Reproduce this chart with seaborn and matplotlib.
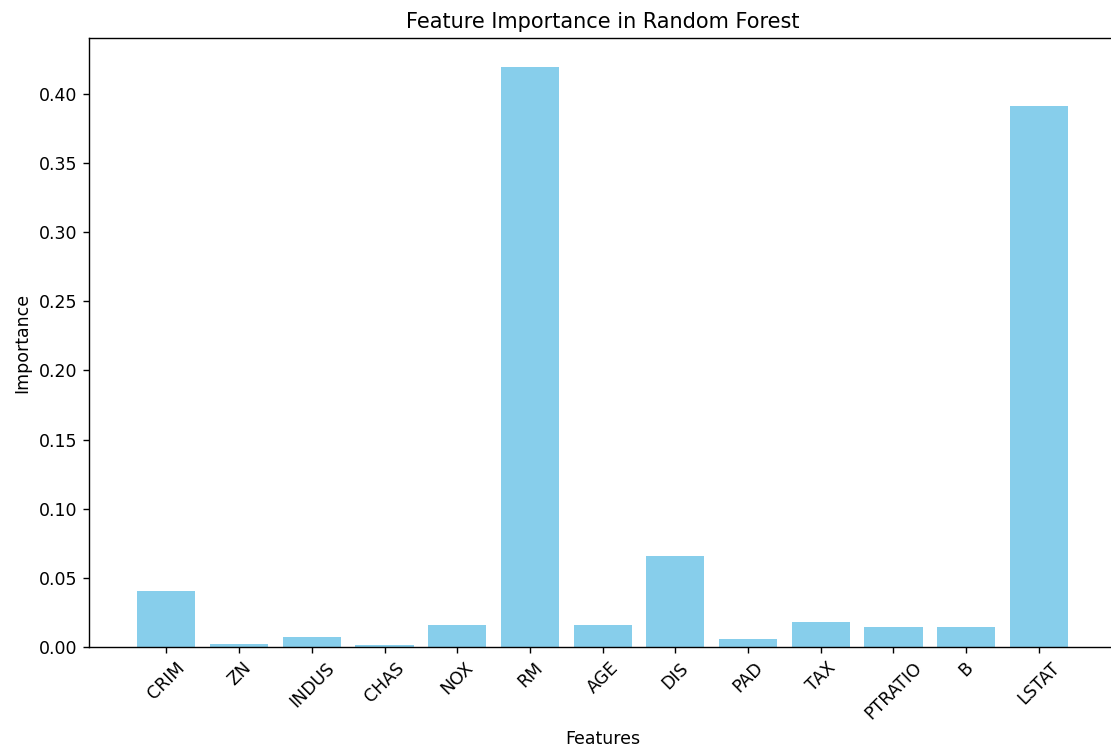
import matplotlib
matplotlib.use("Agg")
import matplotlib.pyplot as plt
import seaborn as sns
import pandas as pd

features = ["CRIM", "ZN", "INDUS", "CHAS", "NOX", "RM", "AGE", "DIS",
            "PAD", "TAX", "PTRATIO", "B", "LSTAT"]
importance = [0.0405, 0.0020, 0.0068, 0.0010, 0.0160, 0.4195, 0.0160, 0.0660,
              0.0054, 0.0178, 0.0143, 0.0143, 0.3915]

df = pd.DataFrame({"Features": features, "Importance": importance})

DPI = 125
fig = plt.figure(figsize=(1111 / DPI, 751 / DPI), dpi=DPI)
ax = fig.add_axes([89.3 / 1111, 104.3 / 751, (1116 - 89.3) / 1111, (646.7 - 38.3) / 751])

sns.barplot(data=df, x="Features", y="Importance", color="skyblue",
            saturation=1, width=0.8, ax=ax)

ax.set_xlim(-1.06, 13.06)
ax.set_ylim(0, 0.4405)
ax.set_title("Feature Importance in Random Forest")
ax.set_xlabel("Features")
ax.set_ylabel("Importance")
plt.setp(ax.get_xticklabels(), rotation=45)

fig.savefig("out.png", dpi=DPI)
